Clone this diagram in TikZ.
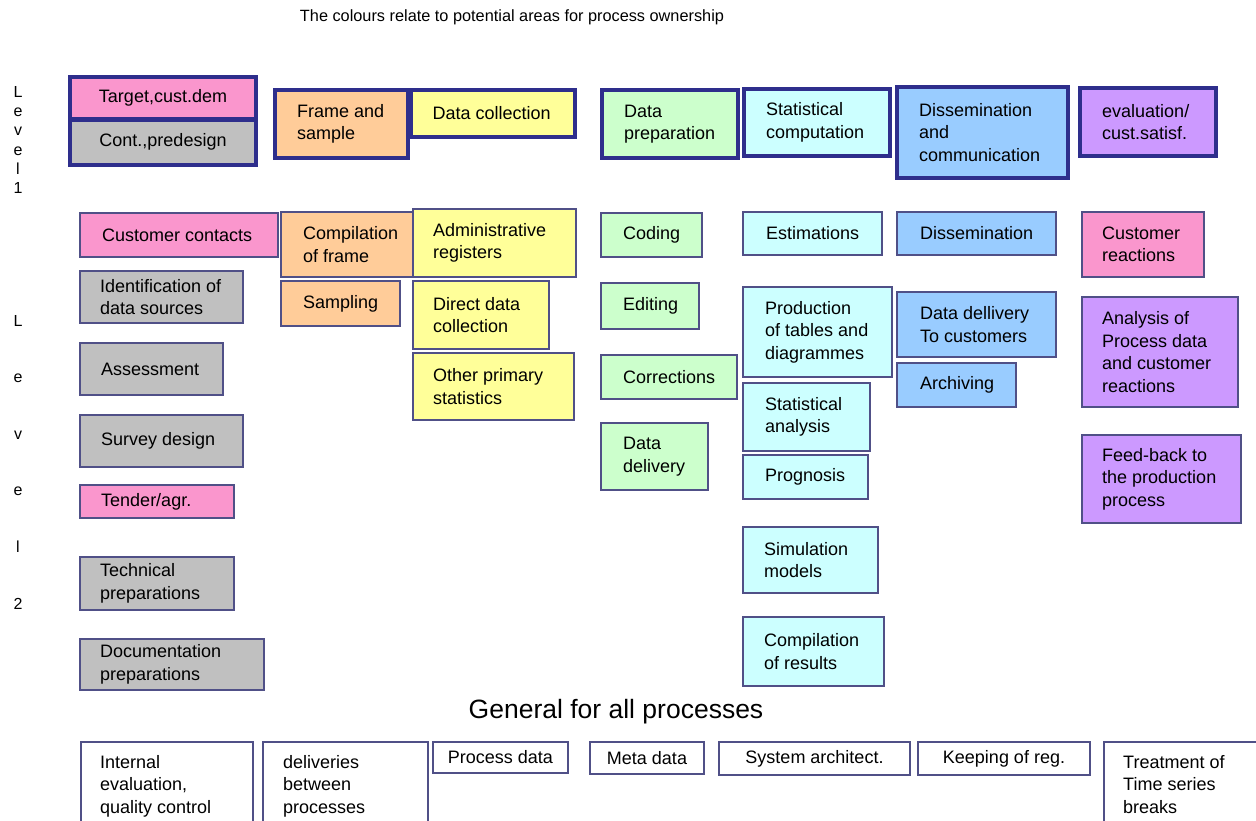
\documentclass[tikz,border=0pt]{standalone}
\usepackage{fontspec}
\setmainfont{Liberation Sans}
\definecolor{pinkc}{RGB}{250,150,205}
\definecolor{grayc}{RGB}{192,192,192}
\definecolor{orangec}{RGB}{255,204,153}
\definecolor{yellowc}{RGB}{255,255,153}
\definecolor{greenc}{RGB}{204,255,204}
\definecolor{cyanc}{RGB}{204,255,255}
\definecolor{bluec}{RGB}{153,204,255}
\definecolor{purplec}{RGB}{204,153,255}
\definecolor{thinc}{RGB}{80,80,135}
\definecolor{thickc}{RGB}{46,46,140}
\newcommand{\bxfont}{\fontsize{18}{22.5}\selectfont}
% name, style, x1, y1, x2, y2, indent, text
\newcommand{\pbx}[8]{%
  \node[#2, minimum width={#5-#3}, minimum height={#6-#4}] (#1) at ({(#3+#5)/2},{-(#4+#6)/2}) {};
  \node[txt] (#1-t) at ([xshift=#7]#1.west) {#8};
}
% centred text box: name, style, x1, y1, x2, y2, text
\newcommand{\cbx}[7]{%
  \node[#2, minimum width={#5-#3}, minimum height={#6-#4}] (#1) at ({(#3+#5)/2},{-(#4+#6)/2}) {};
  \node[txt, anchor=center, align=center] (#1-t) at (#1.center) {#7};
}
\tikzset{
  thin/.style={draw=thinc, line width=1.3pt, inner sep=0pt, outer sep=0pt},
  thick/.style={draw=thickc, line width=4.5pt, inner sep=0pt, outer sep=0pt},
  txt/.style={anchor=west, align=left, inner sep=0pt, font=\bxfont},
}
\begin{document}
\begin{tikzpicture}[x=1pt,y=1pt]
\useasboundingbox (0,0) rectangle (1256,-821);
\clip (0,0) rectangle (1256,-821);
\fill[white] (0,0) rectangle (1256,-821);

% title
\node[inner sep=0pt, font=\fontsize{16.3}{19}\selectfont] (title) at (512,-17) {The colours relate to potential areas for process ownership};

% level labels
\node[inner sep=0pt, align=center, font=\fontsize{16}{19.2}\selectfont] (lev1) at (18,-140) {L\\e\\v\\e\\l\\[0pt]1};
\node[inner sep=0pt, align=center, font=\fontsize{16}{56.6}\selectfont] (lev2) at (18,-462) {L\\e\\v\\e\\l\\2};

% level 1 (thick)
\cbx{t1}{thick,fill=pinkc}{70}{77}{256}{119.5}{Target,cust.dem}
\cbx{t2}{thick,fill=grayc}{70}{119.5}{256}{165}{Cont.,predesign}
\pbx{f1}{thick,fill=orangec}{275}{90}{408}{158}{22}{Frame and\\sample}
\pbx{d1}{thick,fill=yellowc}{410.5}{90}{575}{137}{22}{Data collection}
\pbx{p1}{thick,fill=greenc}{602}{90}{738}{158}{22}{Data\\preparation}
\pbx{s1}{thick,fill=cyanc}{744}{89}{890}{156}{22}{Statistical\\computation}
\pbx{m1}{thick,fill=bluec}{897}{87}{1068}{178}{22}{Dissemination\\and\\communication}
\pbx{e1}{thick,fill=purplec}{1080}{88}{1216}{156}{22}{evaluation/\\cust.satisf.}

% level 2 -- column 1
\pbx{cc}{thin,fill=pinkc}{80}{213}{278}{257}{22}{Customer contacts}
\pbx{ids}{thin,fill=grayc}{80}{271}{243}{323}{20}{Identification of\\data sources}
\pbx{ass}{thin,fill=grayc}{80}{343}{223}{395}{21}{Assessment}
\pbx{sd}{thin,fill=grayc}{80}{415}{243}{467}{21}{Survey design}
\pbx{ten}{thin,fill=pinkc}{80}{485}{234}{518}{21}{Tender/agr.}
\pbx{tp}{thin,fill=grayc}{80}{557}{234}{610}{20}{Technical\\preparations}
\pbx{dp}{thin,fill=grayc}{80}{639}{264}{690}{20}{Documentation\\preparations}

% column 2
\pbx{cf}{thin,fill=orangec}{281}{212}{413}{277}{22}{Compilation\\of frame}
\pbx{sa}{thin,fill=orangec}{281}{281}{400}{326}{22}{Sampling}

% column 3
\pbx{ar}{thin,fill=yellowc}{413}{209}{576}{277}{20}{Administrative\\registers}
\pbx{dd}{thin,fill=yellowc}{413}{281}{549}{349}{20}{Direct data\\collection}
\pbx{op}{thin,fill=yellowc}{413}{353}{574}{420}{20}{Other primary\\statistics}

% column 4
\pbx{co}{thin,fill=greenc}{601}{213}{702}{257}{22}{Coding}
\pbx{ed}{thin,fill=greenc}{601}{283}{699}{329}{22}{Editing}
\pbx{cr}{thin,fill=greenc}{601}{355}{737}{399}{22}{Corrections}
\pbx{dl}{thin,fill=greenc}{601}{423}{708}{490}{22}{Data\\delivery}

% column 5
\pbx{es}{thin,fill=cyanc}{743}{212}{882}{255}{23}{Estimations}
\pbx{pt}{thin,fill=cyanc}{743}{287}{892}{377}{22}{Production\\of tables and\\diagrammes}
\pbx{st}{thin,fill=cyanc}{743}{383}{870}{451}{22}{Statistical\\analysis}
\pbx{pg}{thin,fill=cyanc}{743}{455}{868}{499}{22}{Prognosis}
\pbx{sm}{thin,fill=cyanc}{743}{527}{878}{593}{21}{Simulation\\models}
\pbx{cor}{thin,fill=cyanc}{743}{617}{884}{686}{21}{Compilation\\of results}

% column 6
\pbx{di}{thin,fill=bluec}{897}{212}{1056}{255}{23}{Dissemination}
\pbx{ddc}{thin,fill=bluec}{897}{292}{1056}{357}{23}{Data dellivery\\To customers}
\pbx{arc}{thin,fill=bluec}{897}{363}{1016}{407}{23}{Archiving}

% column 7
\pbx{cre}{thin,fill=pinkc}{1082}{212}{1204}{277}{20}{Customer\\reactions}
\pbx{an}{thin,fill=purplec}{1082}{297}{1238}{407}{20}{Analysis of\\Process data\\and customer\\reactions}
\pbx{fb}{thin,fill=purplec}{1082}{435}{1241}{523}{20}{Feed-back to\\the production\\process}

% general
\node[inner sep=0pt, font=\fontsize{26.5}{30}\selectfont] (gen) at (616,-712) {General for all processes};

% bottom row
\node[thin, fill=white, minimum width=172, minimum height=100, anchor=north west] (ie) at (81,-742) {};
\node[txt, anchor=north west] (ie-t) at ([xshift=19,yshift=-13]ie.north west) {Internal\\evaluation,\\quality control};
\node[thin, fill=white, minimum width=165, minimum height=100, anchor=north west] (db) at (263,-742) {};
\node[txt, anchor=north west] (db-t) at ([xshift=20,yshift=-13]db.north west) {deliveries\\between\\processes};
\cbx{pd}{thin,fill=white}{433}{742}{568}{773}{Process data}
\cbx{md}{thin,fill=white}{590}{742}{704}{774}{Meta data}
\cbx{sy}{thin,fill=white}{719}{742}{910}{775}{System architect.}
\cbx{kr}{thin,fill=white}{918}{742}{1090}{775}{Keeping of reg.}
\node[thin, fill=white, minimum width=180, minimum height=100, anchor=north west] (tr) at (1104,-742) {};
\node[txt, anchor=north west] (tr-t) at ([xshift=19,yshift=-13]tr.north west) {Treatment of\\Time series\\breaks};
\end{tikzpicture}
\end{document}
